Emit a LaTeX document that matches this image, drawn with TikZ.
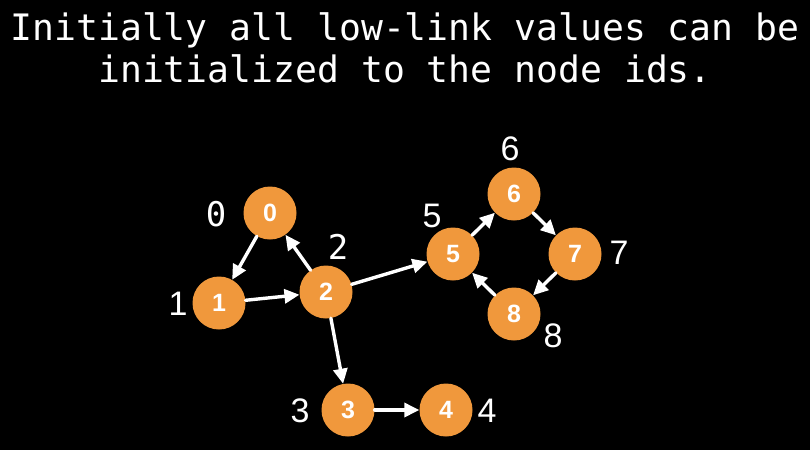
\documentclass[tikz,border=0pt]{standalone}
\usepackage{fontspec}
\usepackage{tikz}
\usetikzlibrary{arrows.meta}
\newfontfamily\monofont{DejaVu Sans Mono}
\newfontfamily\idfont{Liberation Sans}
\colorlet{background}{black}
\colorlet{penColor}{white}
\definecolor{nodeColor}{RGB}{240,152,60}
\tikzset{>={Triangle[length=15pt,width=14pt]},
  vert/.style={circle,fill=nodeColor,minimum size=53pt,inner sep=0pt,
    text=white,font=\idfont\bfseries\fontsize{25}{25}\selectfont},
  idlabel/.style={text=penColor,font=\idfont\fontsize{34}{34}\selectfont},
  monolabel/.style={text=penColor,font=\monofont\fontsize{34}{34}\selectfont},
  edge/.style={penColor,line width=3.4pt,->}}

\begin{document}
\begin{tikzpicture}[x=1pt,y=-1pt,line cap=round]

  \fill [background] (0,0) rectangle (810,450);
  \useasboundingbox (0,0) rectangle (810,450);

  % title
  \node [text=penColor,font=\monofont\fontsize{36.4}{42}\selectfont,align=center] (title) at (405,48)
    {Initially all low-link values can be\\initialized to the node ids.};

  % vertices
  \node [vert] (n0) at (270,213) {0};
  \node [vert] (n1) at (219,303) {1};
  \node [vert] (n2) at (326,292) {2};
  \node [vert] (n3) at (348,410) {3};
  \node [vert] (n4) at (446,410) {4};
  \node [vert] (n5) at (453,254) {5};
  \node [vert] (n6) at (514,194) {6};
  \node [vert] (n7) at (575,254) {7};
  \node [vert] (n8) at (514,314) {8};

  % low-link values
  \node [monolabel] (l0) at (216,214) {0};
  \node [idlabel] (l1) at (178,304) {1};
  \node [monolabel] (l2) at (338,247) {2};
  \node [idlabel] (l3) at (300,411) {3};
  \node [idlabel] (l4) at (487,411) {4};
  \node [idlabel] (l5) at (432,216) {5};
  \node [idlabel] (l6) at (510,149) {6};
  \node [idlabel] (l7) at (619,253) {7};
  \node [idlabel] (l8) at (553,336) {8};

  \draw [edge] (n0) -- (n1);
  \draw [edge] (n1) -- (n2);
  \draw [edge] (n2) -- (n0);
  \draw [edge] (n2) -- (n5);
  \draw [edge] (n2) -- (n3);
  \draw [edge] (n3) -- (n4);
  \draw [edge] (n5) -- (n6);
  \draw [edge] (n6) -- (n7);
  \draw [edge] (n7) -- (n8);
  \draw [edge] (n8) -- (n5);

\end{tikzpicture}
\end{document}
